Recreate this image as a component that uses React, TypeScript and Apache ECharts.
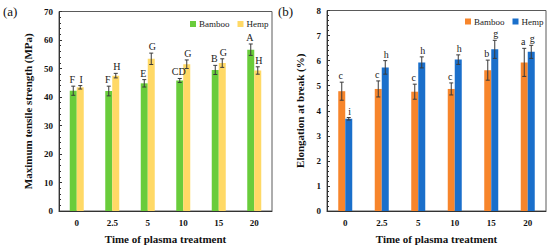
import React, { useEffect, useRef } from "react";
import * as echarts from "echarts";

const categories = ["0", "2.5", "5", "10", "15", "20"];

const tensileBamboo = [42.2, 42.1, 44.8, 45.8, 49.5, 56.6];
const tensileBambooErr = [1.6, 1.7, 1.3, 0.7, 1.6, 2.0];
const tensileBambooLetters = ["F", "F", "E", "CD", "B", "A"];
const tensileHemp = [43.4, 47.5, 53.4, 51.5, 51.9, 49.3];
const tensileHempErr = [0.6, 0.8, 2.0, 1.5, 1.5, 1.3];
const tensileHempLetters = ["I", "H", "G", "G", "G", "H"];

const elongBamboo = [4.78, 4.87, 4.76, 4.87, 5.62, 5.93];
const elongBambooErr = [0.36, 0.32, 0.3, 0.24, 0.4, 0.56];
const elongBambooLetters = ["c", "c", "c", "c", "b", "a"];
const elongHemp = [3.68, 5.73, 5.93, 6.04, 6.45, 6.35];
const elongHempErr = [0.05, 0.27, 0.22, 0.19, 0.36, 0.26];
const elongHempLetters = ["i", "h", "h", "h", "g", "g"];

const FONT = '"Liberation Serif", "DejaVu Serif", serif';
const BAR_W = 7;

function errSeries(vals: number[], errs: number[], letters: string[], offset: number, textShift: number) {
  return {
    type: "custom",
    z: 5,
    silent: true,
    data: vals.map((v, i) => [i, v, errs[i]]),
    renderItem: (params: any, api: any) => {
      const i = api.value(0);
      const v = api.value(1);
      const e = api.value(2);
      const letter = letters[params.dataIndex];
      const top = api.coord([i, v + e]);
      const bot = api.coord([i, v - e]);
      const cx = top[0] + offset;
      const cap = 2;
      const stroke = { stroke: "#3a3a3a", lineWidth: 1 };
      return {
        type: "group",
        children: [
          { type: "line", shape: { x1: cx, y1: top[1], x2: cx, y2: bot[1] }, style: stroke },
          { type: "line", shape: { x1: cx - cap, y1: top[1], x2: cx + cap, y2: top[1] }, style: stroke },
          { type: "line", shape: { x1: cx - cap, y1: bot[1], x2: cx + cap, y2: bot[1] }, style: stroke },
          {
            type: "text",
            style: {
              text: letter,
              x: cx + textShift,
              y: top[1] - 1.5,
              align: "center",
              verticalAlign: "bottom",
              textAlign: "center",
              textVerticalAlign: "bottom",
              font: `10px ${FONT}`,
              fill: "#1a1a1a",
            },
          },
        ],
      };
    },
  };
}

function buildOption(cfg: {
  tag: string;
  yName: string;
  max: number;
  grid: any;
  legendLeft: number;
  legendTop: number;
  colors: [string, string];
  bamboo: number[];
  bambooErr: number[];
  bambooLetters: string[];
  hemp: number[];
  hempErr: number[];
  hempLetters: string[];
}) {
  return {
    animation: false,
    textStyle: { fontFamily: FONT },
    graphic: [
      {
        type: "text",
        left: 3,
        top: 5,
        style: { text: cfg.tag, font: `13px ${FONT}`, fill: "#111" },
      },
    ],
    legend: {
      left: cfg.legendLeft,
      top: cfg.legendTop,
      width: 84,
      padding: 0,
      icon: "rect",
      itemWidth: 6,
      itemHeight: 6,
      itemGap: 8,
      textStyle: { fontFamily: FONT, fontSize: 9, color: "#222", padding: [0, 0, 0, -2] },
      data: ["Bamboo", "Hemp"],
    },
    grid: { ...cfg.grid, show: true, borderColor: "#5a5a5a", borderWidth: 1, backgroundColor: "transparent" },
    xAxis: {
      type: "category",
      data: categories,
      name: "Time of plasma treatment",
      nameLocation: "middle",
      nameGap: 22,
      nameTextStyle: { fontFamily: FONT, fontSize: 11, fontWeight: "bold", color: "#111" },
      axisLine: { lineStyle: { color: "#333", width: 1 } },
      axisTick: { show: false },
      axisLabel: { fontFamily: FONT, fontSize: 9, fontWeight: "bold", color: "#111", margin: 7 },
    },
    yAxis: {
      type: "value",
      min: 0,
      max: cfg.max,
      interval: cfg.max === 70 ? 10 : 1,
      name: cfg.yName,
      nameLocation: "middle",
      nameGap: 22,
      nameTextStyle: { fontFamily: FONT, fontSize: 11, fontWeight: "bold", color: "#111" },
      axisLine: { show: true, lineStyle: { color: "#333", width: 1 } },
      axisTick: { show: true, inside: true, length: 3, lineStyle: { color: "#333" } },
      minorTick: { show: true, splitNumber: 5, length: 2, lineStyle: { color: "#333" } },
      splitLine: { show: false },
      axisLabel: { fontFamily: FONT, fontSize: 9, fontWeight: "bold", color: "#111", margin: 6 },
    },
    series: [
      {
        name: "Bamboo",
        type: "bar",
        barWidth: BAR_W,
        barGap: "0%",
        itemStyle: { color: cfg.colors[0] },
        data: cfg.bamboo,
      },
      {
        name: "Hemp",
        type: "bar",
        barWidth: BAR_W,
        barGap: "0%",
        itemStyle: { color: cfg.colors[1] },
        data: cfg.hemp,
      },
      errSeries(cfg.bamboo, cfg.bambooErr, cfg.bambooLetters, -BAR_W / 2, -1),
      errSeries(cfg.hemp, cfg.hempErr, cfg.hempLetters, BAR_W / 2, 1),
    ],
  };
}

function Chart({ option, left }: { option: any; left: number }) {
  const ref = useRef<HTMLDivElement>(null);
  useEffect(() => {
    if (!ref.current) return;
    const chart = echarts.init(ref.current, undefined, { renderer: "svg" });
    chart.setOption(option);
    return () => chart.dispose();
  }, [option]);
  return (
    <div
      ref={ref}
      style={{ position: "fixed", left, top: 0, width: 275, height: 249, background: "#fff" }}
    />
  );
}

const leftOption = buildOption({
  tag: "(a)",
  yName: "Maximum tensile strength (MPa)",
  max: 70,
  grid: { left: 59, top: 11.5, width: 213, height: 200 },
  legendLeft: 190,
  legendTop: 19.5,
  colors: ["#69CC3B", "#FFD966"],
  bamboo: tensileBamboo,
  bambooErr: tensileBambooErr,
  bambooLetters: tensileBambooLetters,
  hemp: tensileHemp,
  hempErr: tensileHempErr,
  hempLetters: tensileHempLetters,
});

const rightOption = buildOption({
  tag: "(b)",
  yName: "Elongation at break (%)",
  max: 8,
  grid: { left: 52, top: 10.5, width: 219, height: 202.5 },
  legendLeft: 190,
  legendTop: 17,
  colors: ["#F7852B", "#1A6FCB"],
  bamboo: elongBamboo,
  bambooErr: elongBambooErr,
  bambooLetters: elongBambooLetters,
  hemp: elongHemp,
  hempErr: elongHempErr,
  hempLetters: elongHempLetters,
});

export default function App() {
  return (
    <div style={{ position: "fixed", left: 0, top: 0, width: 550, height: 249, background: "#fff" }}>
      <Chart option={leftOption} left={0} />
      <Chart option={rightOption} left={275} />
    </div>
  );
}
